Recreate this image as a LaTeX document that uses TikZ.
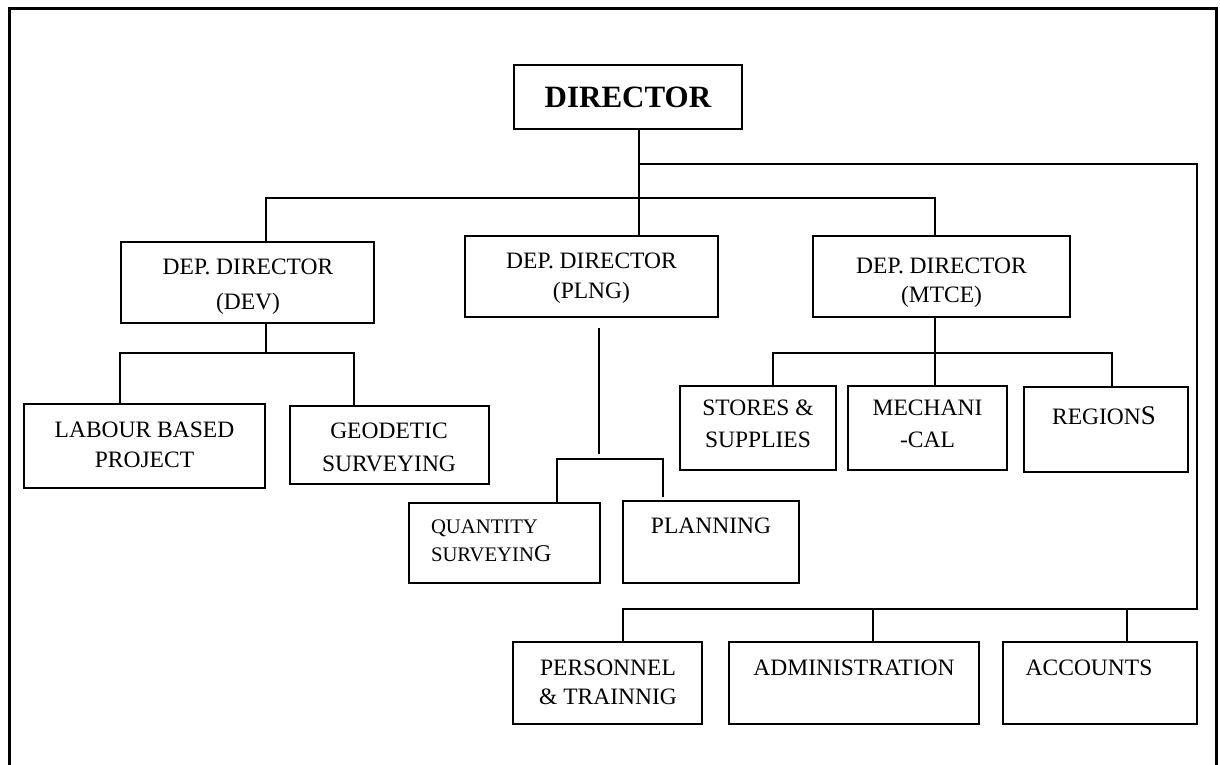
\documentclass[tikz,border=0pt]{standalone}
\usepackage{fontspec}
\setmainfont{Liberation Serif}
\newcommand\orgbox[5]{%
  \node[box, minimum width={(#4-#2)*1pt}, minimum height={(#5-#3)*1pt}]
    (#1) at ({(#2+#4)/2},{(#3+#5)/2}) {};}
\begin{document}
\begin{tikzpicture}[x=1pt,y=-1pt,
  box/.style={draw, line width=2pt, inner sep=0pt, outer sep=0pt, rectangle},
  conn/.style={line width=2pt},
  lbl/.style={inner sep=0pt, outer sep=0pt, align=center, anchor=north,
              font=\fontsize{23.5}{30}\selectfont}]
\useasboundingbox (0,0) rectangle (1220,765);
% outer frame (open at the bottom)
\draw[line width=3pt] (9,770) -- (9,9) -- (1216,9) -- (1216,770);

% boxes
\orgbox{dir}{514}{65}{742}{129}
\orgbox{dev}{121}{242}{374}{323}
\orgbox{plng}{465}{236}{718}{317}
\orgbox{mtce}{813}{236}{1070}{317}
\orgbox{lab}{24}{404}{265}{488}
\orgbox{geo}{290}{406}{489}{484}
\orgbox{qs}{409}{503}{600}{583}
\orgbox{pln}{623}{501}{799}{583}
\orgbox{sto}{680}{386}{836}{470}
\orgbox{mec}{848}{386}{1007}{470}
\orgbox{reg}{1024}{387}{1188}{472}
\orgbox{per}{513}{642}{702}{724}
\orgbox{adm}{729}{642}{979}{724}
\orgbox{acc}{1003}{642}{1197}{724}

% texts
\node[inner sep=0pt, font=\fontsize{31}{36}\selectfont\bfseries] (dirt) at (dir.center) {DIRECTOR};
\node[lbl, font=\fontsize{23.5}{35}\selectfont] (devt) at (248,259) {DEP. DIRECTOR\\(DEV)};
\node[lbl] (plngt) at (591.5,253) {DEP. DIRECTOR\\(PLNG)};
\node[lbl, font=\fontsize{23.5}{29}\selectfont] (mtcet) at (941.5,258) {DEP. DIRECTOR\\(MTCE)};
\node[lbl] (labt) at (144.5,422) {LABOUR BASED\\PROJECT};
\node[lbl, font=\fontsize{23.5}{33}\selectfont] (geot) at (389,423) {GEODETIC\\SURVEYING};
\node[lbl, anchor=north west, align=left, font=\fontsize{20.7}{28}\selectfont] (qst) at (431,520)
  {QUANTITY\\SURVEYIN{\fontsize{24}{28}\selectfont G}};
\node[lbl] (plnt) at (711,518) {PLANNING};
\node[lbl, font=\fontsize{23.5}{32}\selectfont] (stot) at (758,400) {STORES \&\\SUPPLIES};
\node[lbl, font=\fontsize{23.5}{32}\selectfont] (mect) at (927.5,400) {MECHANI\\-CAL};
\node[lbl] (regt) at (1104,407) {REGION{\fontsize{27}{30}\selectfont S}};
\node[lbl, font=\fontsize{23.5}{29}\selectfont] (pert) at (608,660) {PERSONNEL\\\& TRAINNIG};
\node[lbl] (admt) at (854,660) {ADMINISTRATION};
\node[lbl] (acct) at (1089,660) {ACCOUNTS};

% connector points
\coordinate (j1) at (266,198);
\coordinate (j2) at (639,198);
\coordinate (j3) at (935,198);
\coordinate (r1) at (1197,164);
\coordinate (r2) at (1197,609);
\coordinate (b1) at (623,609);
\coordinate (b2) at (873,609);
\coordinate (b3) at (1127,609);
\coordinate (d0) at (266,353);
\coordinate (dl) at (120,353);
\coordinate (dr) at (354,353);
\coordinate (p0) at (599,328);
\coordinate (p1) at (599,454);
\coordinate (ql) at (557,459);
\coordinate (qr) at (663,459);
\coordinate (qe) at (663,497);
\coordinate (m0) at (935,353);
\coordinate (ml) at (773,353);
\coordinate (mr) at (1112,353);

% connectors
\draw[conn] (j2 |- dir.south) -- (j2 |- plng.north);
\draw[conn] (j1 |- dev.north) -- (j1) -- (j3) -- (j3 |- mtce.north);
\draw[conn] (j2 |- r1) -- (r1) -- (r2) -- (b1) -- (b1 |- per.north);
\draw[conn] (b2) -- (b2 |- adm.north);
\draw[conn] (b3) -- (b3 |- acc.north);

\draw[conn] (d0 |- dev.south) -- (d0);
\draw[conn] (dl |- lab.north) -- (dl) -- (dr) -- (dr |- geo.north);

\draw[conn] (p0) -- (p1);
\draw[conn] (ql |- qs.north) -- (ql) -- (qr) -- (qe);

\draw[conn] (m0 |- mtce.south) -- (m0 |- mec.north);
\draw[conn] (ml |- sto.north) -- (ml) -- (mr) -- (mr |- reg.north);
\end{tikzpicture}
\end{document}
